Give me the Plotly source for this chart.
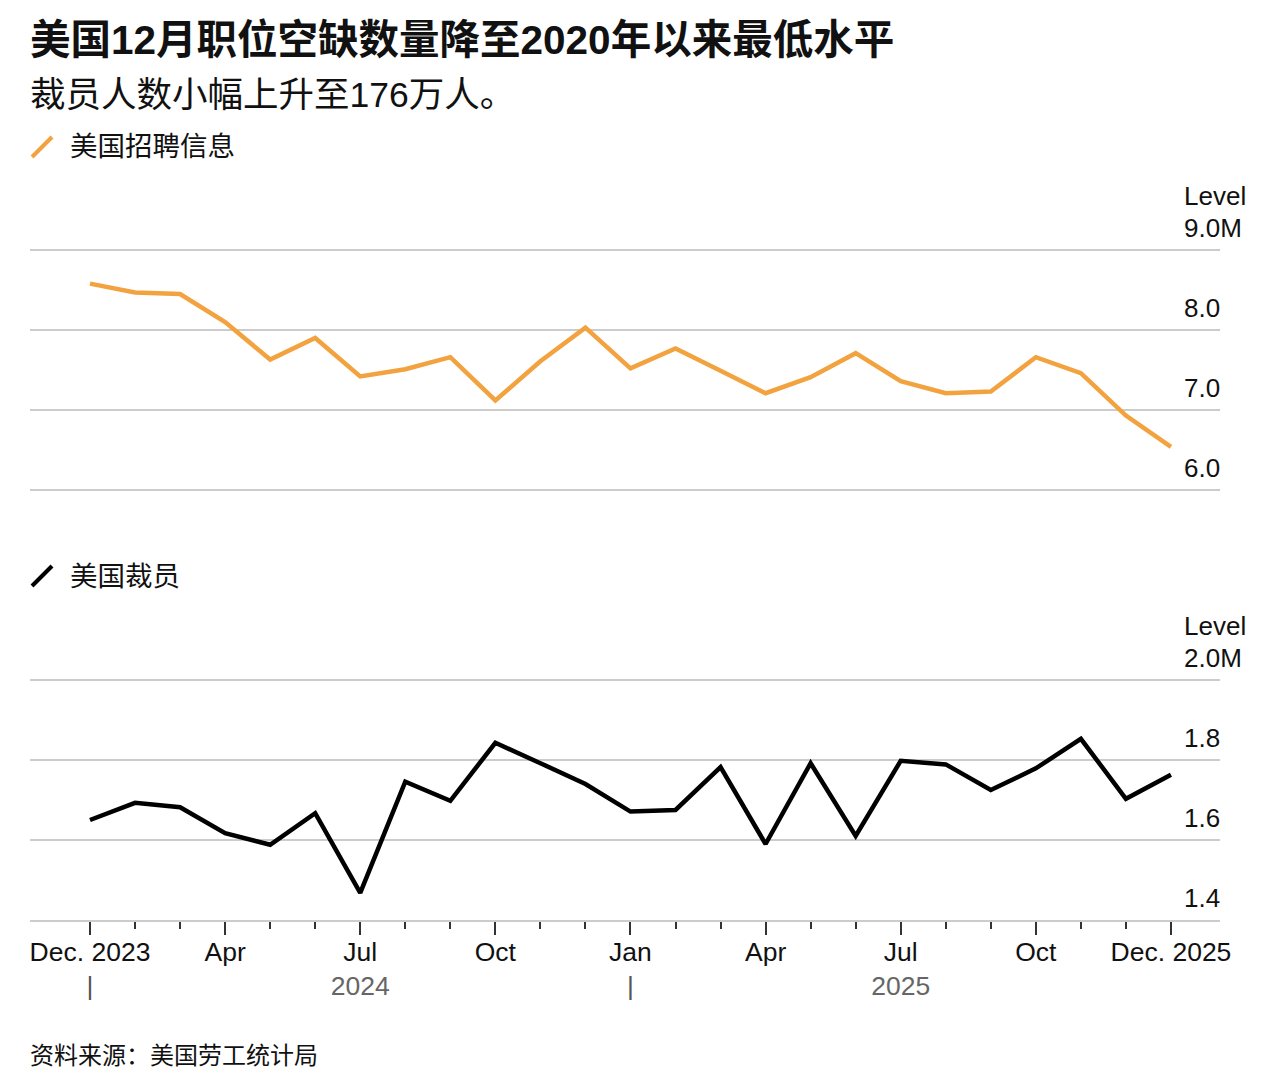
import plotly.graph_objects as go

# ---------------- data ----------------
months = ["2023-12", "2024-01", "2024-02", "2024-03", "2024-04", "2024-05", "2024-06",
          "2024-07", "2024-08", "2024-09", "2024-10", "2024-11", "2024-12",
          "2025-01", "2025-02", "2025-03", "2025-04", "2025-05", "2025-06",
          "2025-07", "2025-08", "2025-09", "2025-10", "2025-11", "2025-12"]
openings = [8.58, 8.47, 8.45, 8.10, 7.63, 7.90, 7.42, 7.51, 7.66, 7.12, 7.61, 8.03, 7.52,
            7.77, 7.49, 7.21, 7.41, 7.71, 7.36, 7.21, 7.23, 7.66, 7.46, 6.93, 6.54]
layoffs = [1.650, 1.693, 1.682, 1.617, 1.588, 1.667, 1.468, 1.746, 1.698, 1.843, 1.792, 1.740,
           1.671, 1.675, 1.782, 1.590, 1.792, 1.610, 1.798, 1.789, 1.725, 1.779, 1.853, 1.703, 1.763]

x_tick_idx = [0, 3, 6, 9, 12, 15, 18, 21, 24]
x_tick_labels = ["Dec. 2023", "Apr", "Jul", "Oct", "Jan", "Apr", "Jul", "Oct", "Dec. 2025"]
x_second_row = {0: "|", 6: "2024", 12: "|", 18: "2025"}

top_ticks = [6, 7, 8, 9]
top_tick_text = ["6.0", "7.0", "8.0", "9.0M"]
bot_ticks = [1.4, 1.6, 1.8, 2.0]
bot_tick_text = ["1.4", "1.6", "1.8", "2.0M"]

title = "美国12月职位空缺数量降至2020年以来最低水平"
subtitle = "裁员人数小幅上升至176万人。"
legend1 = "美国招聘信息"
legend2 = "美国裁员"
source = "资料来源：美国劳工统计局"
axis_title = "Level"

# ---------------- layout helpers ----------------
W, H = 1276, 1080
ML, MR = 30, 56
PW = W - ML - MR
ORANGE = "#F2A33F"
FONT = "Liberation Sans, Noto Sans CJK SC, sans-serif"
TXT = "#111111"


def px_x(p):
    return (p - ML) / PW


def px_y(p):
    return (H - p) / H


idx = list(range(len(months)))
step = 45.04
x_range = [-(90 - ML) / step, (1220 - 90) / step]

fig = go.Figure()
fig.add_trace(go.Scatter(x=idx, y=openings, mode="lines", name=legend1,
                         line=dict(color=ORANGE, width=4.5), xaxis="x", yaxis="y",
                         hoverinfo="skip"))
fig.add_trace(go.Scatter(x=idx, y=layoffs, mode="lines", name=legend2,
                         line=dict(color="#000000", width=4.5), xaxis="x2", yaxis="y2",
                         hoverinfo="skip"))

ticktext = []
for i, lab in zip(x_tick_idx, x_tick_labels):
    if i in x_second_row:
        second = x_second_row[i]
        col = "#555555" if second == "|" else "#666666"
        ticktext.append(f"{lab}<br><span style='color:{col}'>{second}</span>")
    else:
        ticktext.append(lab)

minor_idx = [i for i in idx if i not in x_tick_idx]

grid = dict(showgrid=True, gridcolor="#cccccc", gridwidth=2, zeroline=False,
            showline=False, ticks="", showticklabels=False, fixedrange=True)

fig.update_layout(
    width=W, height=H,
    margin=dict(l=ML, r=MR, t=0, b=0, autoexpand=False),
    paper_bgcolor="white", plot_bgcolor="white",
    showlegend=False,
    font=dict(family=FONT, color=TXT),
    xaxis=dict(domain=[0, 1], range=x_range, visible=False, fixedrange=True),
    yaxis=dict(domain=[px_y(491.6), px_y(248.4)], range=[5.98, 9.02],
               tickmode="array", tickvals=top_ticks, **grid),
    xaxis2=dict(domain=[0, 1], range=x_range, anchor="y2", fixedrange=True,
                showgrid=False, zeroline=False,
                showline=True, linecolor="#cccccc", linewidth=2,
                tickmode="array", tickvals=x_tick_idx, ticktext=ticktext,
                ticks="outside", ticklen=13, tickwidth=2, tickcolor="#333333",
                ticklabelstandoff=-6,
                tickfont=dict(size=26.5, color=TXT, family=FONT),
                minor=dict(tickmode="array", tickvals=minor_idx, ticks="outside",
                           ticklen=7, tickwidth=2, tickcolor="#333333", showgrid=False)),
    yaxis2=dict(domain=[px_y(920), px_y(678)], range=[1.4, 2.005], anchor="x2",
                tickmode="array", tickvals=bot_ticks[1:], **grid),
)

ann = []
# titles
ann.append(dict(text=f"<b>{title}</b>", x=px_x(28), y=px_y(40), xref="paper", yref="paper",
                xanchor="left", yanchor="middle", showarrow=False,
                font=dict(size=40.5, color=TXT, family=FONT)))
ann.append(dict(text=subtitle, x=px_x(28), y=px_y(95), xref="paper", yref="paper",
                xanchor="left", yanchor="middle", showarrow=False,
                font=dict(size=35.5, color=TXT, family=FONT)))
# legends
for txt, yy in [(legend1, 147), (legend2, 576)]:
    ann.append(dict(text=txt, x=px_x(68), y=px_y(yy), xref="paper", yref="paper",
                    xanchor="left", yanchor="middle", showarrow=False,
                    font=dict(size=27.5, color=TXT, family=FONT)))
# source
ann.append(dict(text=source, x=px_x(28), y=px_y(1055), xref="paper", yref="paper",
                xanchor="left", yanchor="middle", showarrow=False,
                font=dict(size=24, color=TXT, family=FONT)))
# y labels
lab_x = px_x(1182)
for yref, ticks, texts in [("y", top_ticks, top_tick_text), ("y2", bot_ticks, bot_tick_text)]:
    for v, t in zip(ticks, texts):
        ann.append(dict(text=t, x=lab_x, y=v, xref="paper", yref=yref, yshift=22,
                        xanchor="left", yanchor="middle", showarrow=False,
                        font=dict(size=26, color=TXT, family=FONT)))
    ann.append(dict(text=axis_title, x=lab_x, y=ticks[-1], xref="paper", yref=yref, yshift=54,
                    xanchor="left", yanchor="middle", showarrow=False,
                    font=dict(size=26, color=TXT, family=FONT)))
fig.update_layout(annotations=ann)

# legend icons
shapes = []
for col, (x0, y0, x1, y1) in [(ORANGE, (32, 157, 52, 137)), ("#000000", (32, 586, 52, 566))]:
    shapes.append(dict(type="line", xref="paper", yref="paper",
                       x0=px_x(x0), y0=px_y(y0), x1=px_x(x1), y1=px_y(y1),
                       line=dict(color=col, width=4)))
fig.update_layout(shapes=shapes)

fig.write_html("out.html", config={"displayModeBar": False, "staticPlot": True},
               post_script="document.body.style.margin='0';document.body.style.overflow='hidden';")
